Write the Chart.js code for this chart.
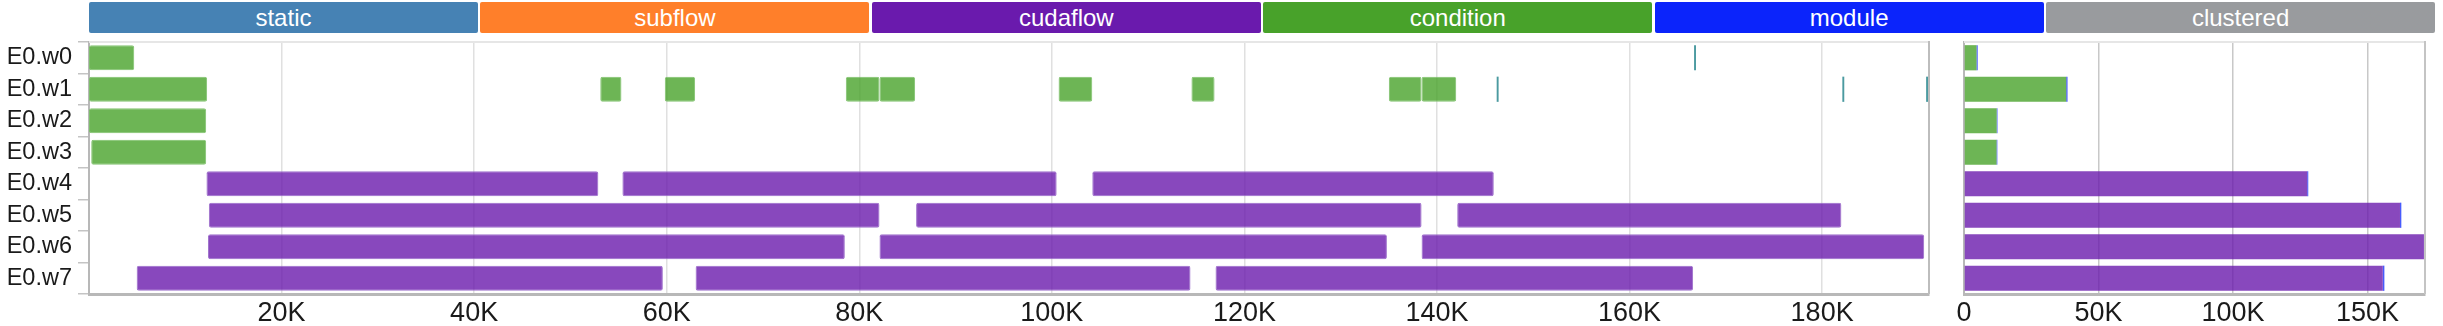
<!DOCTYPE html>
<html>
<head>
<meta charset="utf-8">
<script src="https://cdn.jsdelivr.net/npm/chart.js@4/dist/chart.umd.min.js"></script>
<style>
  body { margin: 0; width: 2443px; height: 326px; background: #fff; overflow: hidden; position: relative; font-family: 'Liberation Sans', Arial, sans-serif; }
  #legend { position: absolute; left: 89px; top: 2px; width: 2346px; height: 31px; display: flex; gap: 2.5px; }
  #legend div { flex: 1; color: #fff; font-size: 24px; line-height: 31px; text-align: center; border-radius: 2px; }
  #timeline { position: absolute; left: 0; top: 0; }
  #clustered { position: absolute; left: 1945px; top: 0; }
</style>
</head>
<body>
<div id="legend"></div>
<canvas id="timeline" width="1945" height="326"></canvas>
<canvas id="clustered" width="498" height="326"></canvas>
<script>
// legend
const taskTypes = ['static', 'subflow', 'cudaflow', 'condition', 'module', 'clustered'];
const typeColors = ['#4682b4', '#ff7f2a', '#6a1aad', '#48a22a', '#0b24fb', '#999b9e'];

// rows
const workers = ['E0.w0', 'E0.w1', 'E0.w2', 'E0.w3', 'E0.w4', 'E0.w5', 'E0.w6', 'E0.w7'];

// timeline segments: [worker, start, end]
const conditionTasks = [
    ['E0.w0', 0, 4700],
    ['E0.w1', 0, 12270], ['E0.w1', 53100, 55300], ['E0.w1', 59800, 62950],
    ['E0.w1', 78600, 82100], ['E0.w1', 82100, 85800], ['E0.w1', 100700, 104200],
    ['E0.w1', 114500, 116900], ['E0.w1', 135000, 138400], ['E0.w1', 138400, 142000],
    ['E0.w2', 0, 12170],
    ['E0.w3', 230, 12170]
];
const cudaflowTasks = [
    ['E0.w4', 12200, 52900], ['E0.w4', 55400, 100500], ['E0.w4', 104200, 145900],
    ['E0.w5', 12450, 82100], ['E0.w5', 85900, 138400], ['E0.w5', 142100, 182000],
    ['E0.w6', 12360, 78500], ['E0.w6', 82100, 134800], ['E0.w6', 138400, 190600],
    ['E0.w7', 4950, 59600], ['E0.w7', 63000, 114400], ['E0.w7', 117000, 166600]
];
const moduleTasks = [
    ['E0.w0', 166700, 166900],
    ['E0.w1', 146200, 146400], ['E0.w1', 182100, 182300], ['E0.w1', 190800, 191000]
];

// clustered totals per worker
const clusterCondition = [4650, 38000, 12150, 12100, 0, 0, 0, 0];
const clusterCudaflow = [0, 0, 0, 0, 127600, 162100, 171000, 155700];
const clusterModule = [450, 500, 300, 300, 400, 500, 500, 600];

// axes
const timelineMax = 191100;
const timelineTicks = [20000, 40000, 60000, 80000, 100000, 120000, 140000, 160000, 180000];
const clusterMax = 171400;
const clusterTicks = [0, 50000, 100000, 150000];

// legend boxes
const legendEl = document.getElementById('legend');
taskTypes.forEach((t, i) => {
    const box = document.createElement('div');
    box.textContent = t;
    box.style.background = typeColors[i];
    legendEl.appendChild(box);
});

const toSegments = tasks => tasks.map(t => ({ y: t[0], x: [t[1], t[2]] }));
const fmtK = v => v === 0 ? '0' : v / 1000 + 'K';

// top and right frame lines
const framePlugin = {
    id: 'frame',
    afterDraw(chart, args, opts) {
        const { ctx, chartArea: a } = chart;
        ctx.save();
        ctx.lineWidth = 2;
        ctx.strokeStyle = '#e6e6e6';
        ctx.beginPath();
        ctx.moveTo(a.left, a.top);
        ctx.lineTo(a.right, a.top);
        ctx.stroke();
        ctx.strokeStyle = opts.right || '#bdbdbd';
        ctx.beginPath();
        ctx.moveTo(a.right, a.top - 1);
        ctx.lineTo(a.right, a.bottom);
        ctx.stroke();
        ctx.restore();
    }
};

Chart.defaults.font.family = "'Liberation Sans', Arial, sans-serif";
Chart.defaults.color = '#1a1a1a';

const barStyle = {
    grouped: false,
    barPercentage: 0.8,
    categoryPercentage: 1,
    borderRadius: 2,
    borderSkipped: false
};

new Chart(document.getElementById('timeline'), {
    type: 'bar',
    data: {
        labels: workers,
        datasets: [
            Object.assign({
                label: 'condition',
                data: toSegments(conditionTasks),
                backgroundColor: 'rgba(72, 162, 42, 0.8)',
                borderColor: 'rgba(120, 190, 100, 0.9)',
                borderWidth: 1
            }, barStyle),
            Object.assign({
                label: 'cudaflow',
                data: toSegments(cudaflowTasks),
                backgroundColor: 'rgba(106, 26, 173, 0.8)',
                borderColor: 'rgba(150, 100, 200, 0.9)',
                borderWidth: 1
            }, barStyle),
            Object.assign({
                label: 'module',
                data: toSegments(moduleTasks),
                backgroundColor: '#4b9aa0',
                borderWidth: 0
            }, barStyle, { borderRadius: 0 })
        ]
    },
    options: {
        indexAxis: 'y',
        responsive: false,
        animation: false,
        devicePixelRatio: 1,
        layout: { padding: { top: 42, right: 16, left: 0, bottom: 0 } },
        plugins: { legend: { display: false }, tooltip: { enabled: false }, frame: {} },
        scales: {
            x: {
                type: 'linear',
                min: 0,
                max: timelineMax,
                afterFit: s => { s.height = 32; },
                afterBuildTicks: s => { s.ticks = timelineTicks.map(v => ({ value: v })); },
                grid: { color: '#e0e0e0', lineWidth: 1.5, drawTicks: false },
                border: { color: '#b8b8b8', width: 3 },
                ticks: {
                    autoSkip: false,
                    padding: 3,
                    maxRotation: 0,
                    font: { size: 27 },
                    callback: v => fmtK(v)
                }
            },
            y: {
                afterFit: s => { s.width = 89; },
                grid: { drawOnChartArea: false, drawTicks: true, tickLength: 11, color: '#c4c4c4', lineWidth: 1.5 },
                border: { color: '#b8b8b8', width: 2 },
                ticks: { padding: 6, font: { size: 23.5 } }
            }
        }
    },
    plugins: [framePlugin]
});

new Chart(document.getElementById('clustered'), {
    type: 'bar',
    data: {
        labels: workers,
        datasets: [
            Object.assign({ label: 'condition', data: clusterCondition, backgroundColor: 'rgba(72, 162, 42, 0.8)' }, barStyle, { grouped: true, borderRadius: 0 }),
            Object.assign({ label: 'cudaflow', data: clusterCudaflow, backgroundColor: 'rgba(106, 26, 173, 0.8)' }, barStyle, { grouped: true, borderRadius: 0 }),
            Object.assign({ label: 'module', data: clusterModule, backgroundColor: 'rgba(11, 36, 251, 0.75)' }, barStyle, { grouped: true, borderRadius: 0 })
        ]
    },
    options: {
        indexAxis: 'y',
        responsive: false,
        animation: false,
        devicePixelRatio: 1,
        layout: { padding: { top: 42, right: 18, left: 0, bottom: 0 } },
        plugins: { legend: { display: false }, tooltip: { enabled: false }, frame: { right: '#c4c4c4' } },
        scales: {
            x: {
                type: 'linear',
                stacked: true,
                min: 0,
                max: clusterMax,
                afterFit: s => { s.height = 32; },
                afterBuildTicks: s => { s.ticks = clusterTicks.map(v => ({ value: v })); },
                grid: { color: '#c8c8c8', lineWidth: 1.5, drawTicks: false },
                border: { color: '#b8b8b8', width: 3 },
                ticks: {
                    autoSkip: false,
                    padding: 3,
                    maxRotation: 0,
                    font: { size: 27 },
                    callback: v => fmtK(v)
                }
            },
            y: {
                stacked: true,
                afterFit: s => { s.width = 19; },
                grid: { display: false },
                border: { color: '#b8b8b8', width: 2 },
                ticks: { display: false }
            }
        }
    },
    plugins: [framePlugin]
});
</script>
</body>
</html>
